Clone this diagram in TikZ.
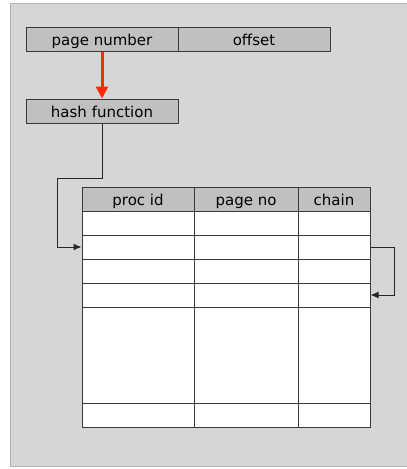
\documentclass[tikz,border=0pt]{standalone}
\usepackage{fontspec}
\setmainfont{DejaVu Sans}
\usetikzlibrary{arrows.meta}

\definecolor{panelgray}{HTML}{D6D6D6}
\definecolor{boxgray}{HTML}{C0C0C0}
\definecolor{linegray}{HTML}{3A3A3A}
\definecolor{arrowred}{HTML}{FF2A00}

\begin{document}
\begin{tikzpicture}[x=1pt, y=-1pt,
    field/.style={draw=linegray, fill=boxgray, line width=1pt, inner sep=0pt, minimum height=24pt, text height=13pt, text depth=0pt, font=\fontsize{15}{15}\selectfont},
    cell/.style={draw=linegray, fill=white, line width=1pt, inner sep=0pt}]
  \useasboundingbox (0,0) rectangle (407,469);
  \draw[draw=black!30, fill=panelgray, line width=1pt] (10,3) rectangle (410,466);

  % address fields
  \node[field, minimum width=152pt] (pagenum) at (102,39) {page number};
  \node[field, minimum width=152pt] (offset) at (254,39) {offset};
  \node[field, minimum width=152pt] (hash) at (102,111) {hash function};

  % table header
  \node[field, minimum width=112pt] (hproc) at (138,199) {proc id};
  \node[field, minimum width=104pt] (hpage) at (246,199) {page no};
  \node[field, minimum width=72pt] (hchain) at (334,199) {chain};

  % table rows
  \foreach \n/\y/\h in {1/223/24, 2/247/24, 3/271/24, 4/295/24, 5/355/96, 6/415/24} {
    \node[cell, minimum width=112pt, minimum height=\h pt] (p\n) at (138,\y) {};
    \node[cell, minimum width=104pt, minimum height=\h pt] (g\n) at (246,\y) {};
    \node[cell, minimum width=72pt, minimum height=\h pt] (c\n) at (334,\y) {};
  }

  \coordinate (turn) at (57,178);

  \draw[arrowred, line width=3pt, -{Triangle[length=12pt, width=12pt]}] (pagenum.south) -- (hash.north);
  \draw[black!85, line width=1pt, -{Latex[length=8pt, width=7pt]}] (hash.south) |- (turn) |- (p2.west);
  \draw[black!85, line width=1pt, -{Latex[length=8pt, width=7pt]}] (c2.east) -- ++(24,0) |- (c4.east);
\end{tikzpicture}
\end{document}
